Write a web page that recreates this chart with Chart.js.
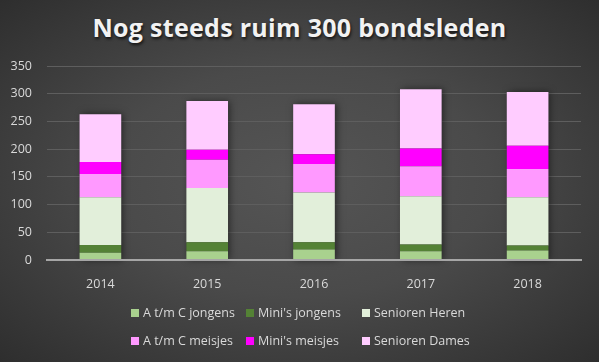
<!DOCTYPE html>
<html>
<head>
<meta charset="utf-8">
<script src="https://cdn.jsdelivr.net/npm/chart.js@4"></script>
<style>
  html, body { margin: 0; padding: 0; }
  body {
    width: 599px; height: 362px; overflow: hidden; position: relative;
    background: radial-gradient(ellipse at 50% 50%, #555555 0%, #4a4a4a 45%, #2e2e2e 100%);
    font-family: "Open Sans", sans-serif;
  }
  #title {
    position: absolute; left: 0; top: 10px; width: 599px; text-align: center;
    color: #f2f2f2; font-weight: bold; font-size: 25px; letter-spacing: 0.3px;
    text-shadow: 1px 2px 3px rgba(0,0,0,0.7);
  }
  #chart-wrap { position: absolute; left: 0; top: 0; width: 599px; height: 362px; }
  #legend { position: absolute; left: 0; top: 0; width: 599px; height: 362px; pointer-events: none; }
  .item { position: absolute; color: #d9d9d9; font-size: 12.5px; line-height: 16px; white-space: nowrap; }
  .item span { display: inline-block; width: 8px; height: 8px; margin-right: 4px; vertical-align: 0px; }
</style>
</head>
<body>
<div id="title">Nog steeds ruim 300 bondsleden</div>
<div id="chart-wrap"><canvas id="myBarChart" width="599" height="362"></canvas></div>
<div id="legend"></div>
<script>
const years = ['2014', '2015', '2016', '2017', '2018'];
const seriesNames = ['A t/m C jongens', "Mini's jongens", 'Senioren Heren', 'A t/m C meisjes', "Mini's meisjes", 'Senioren Dames'];
const seriesColors = ['#a9d18e', '#548235', '#e2efda', '#ff99ff', '#ff00ff', '#ffccff'];
const atmcJongens = [13, 16, 19, 16, 17];
const minisJongens = [14, 16, 13, 12, 9];
const seniorenHeren = [86, 98, 90, 87, 87];
const atmcMeisjes = [42, 51, 51, 54, 51];
const minisMeisjes = [22, 18, 18, 32, 42];
const seniorenDames = [86, 88, 90, 107, 97];
const yTicks = [0, 50, 100, 150, 200, 250, 300, 350];

const allValues = [atmcJongens, minisJongens, seniorenHeren, atmcMeisjes, minisMeisjes, seniorenDames];

// one soft shadow behind every full stack, so no seams between segments
const shadowPlugin = {
    id: 'barShadow',
    beforeDatasetsDraw(chart) {
        const c = chart.ctx;
        const top = chart.getDatasetMeta(chart.data.datasets.length - 1).data;
        const base = chart.scales.y.getPixelForValue(0);
        c.save();
        c.shadowColor = 'rgba(0,0,0,0.5)';
        c.shadowBlur = 7;
        c.shadowOffsetX = 2;
        c.fillStyle = '#3a3a3a';
        top.forEach(bar => {
            c.fillRect(bar.x - bar.width / 2, bar.y, bar.width, base - bar.y);
        });
        c.restore();
    }
};

document.addEventListener("DOMContentLoaded", function () {
    var ctx = document.getElementById('myBarChart').getContext('2d');
    var chart = new Chart(ctx, {
        type: 'bar',
        data: {
            labels: years,
            datasets: seriesNames.map((name, i) => ({
                label: name,
                data: allValues[i],
                backgroundColor: seriesColors[i],
                borderWidth: 0,
                categoryPercentage: 1,
                barPercentage: 0.39,
            }))
        },
        options: {
            responsive: false,
            animation: false,
            devicePixelRatio: 1,
            layout: {
                padding: { top: 66, right: 18, bottom: 61, left: 0 }
            },
            scales: {
                x: {
                    stacked: true,
                    grid: { display: false },
                    border: { display: true, color: '#a6a6a6', width: 2, z: 1 },
                    ticks: { color: '#d9d9d9', font: { family: 'Open Sans', size: 12.5 }, padding: 9 },
                },
                y: {
                    stacked: true,
                    min: 0,
                    max: 350,
                    afterBuildTicks: (axis) => { axis.ticks = yTicks.map(v => ({ value: v })); },
                    afterFit: (axis) => { axis.width = 47; },
                    grid: { display: true, color: '#5e5e5e', lineWidth: 1, drawTicks: false },
                    border: { display: false },
                    ticks: { color: '#d9d9d9', font: { family: 'Open Sans', size: 12.5 }, padding: 15 },
                }
            },
            plugins: {
                legend: { display: false },
                tooltip: { enabled: false }
            }
        },
        plugins: [shadowPlugin]
    });

    // legend in two rows of three, Excel style
    const legend = document.getElementById('legend');
    const colX = [131, 246, 362];
    const rowY = [305, 333];
    seriesNames.forEach((name, i) => {
        const item = document.createElement('div');
        item.className = 'item';
        item.style.left = colX[i % 3] + 'px';
        item.style.top = rowY[Math.floor(i / 3)] + 'px';
        const box = document.createElement('span');
        box.style.background = seriesColors[i];
        item.appendChild(box);
        item.appendChild(document.createTextNode(name));
        legend.appendChild(item);
    });
});
</script>
</body>
</html>
